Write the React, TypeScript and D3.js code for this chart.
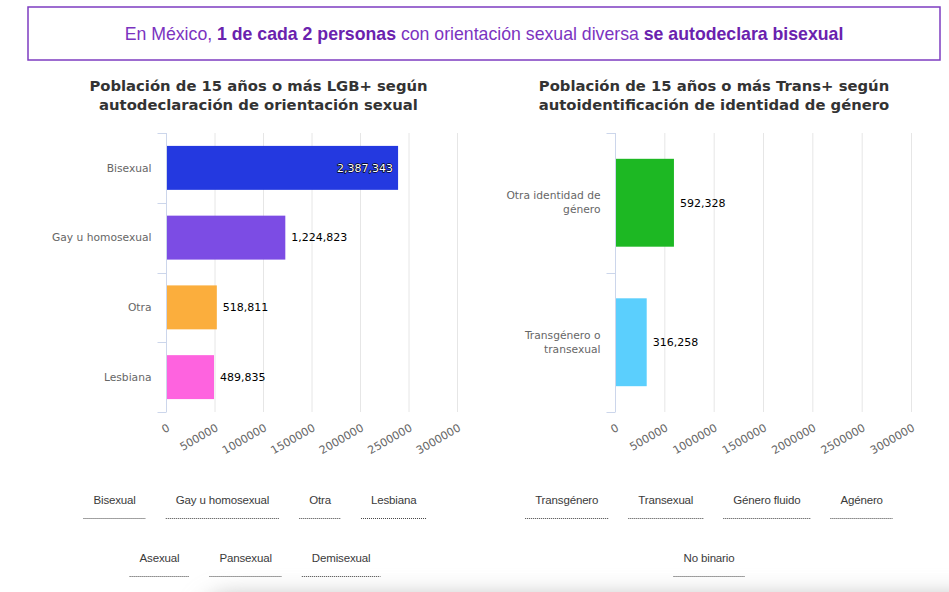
import { useEffect, useRef } from 'react';
import * as d3 from 'd3';

// datos de las dos gráficas
const lgbCategories = ['Bisexual', 'Gay u homosexual', 'Otra', 'Lesbiana'];
const lgbValues = [2387343, 1224823, 518811, 489835];
const lgbColors = ['#2439e0', '#7c4ce4', '#fbae3d', '#fe63df'];

const transCategories = ['Otra identidad de género', 'Transgénero o transexual'];
const transLabelLines = [['Otra identidad de', 'género'], ['Transgénero o', 'transexual']];
const transValues = [592328, 316258];
const transColors = ['#1db823', '#5bcffd'];

const xTicks = [0, 500000, 1000000, 1500000, 2000000, 2500000, 3000000];

const lgbButtonsRow1 = ['Bisexual', 'Gay u homosexual', 'Otra', 'Lesbiana'];
const lgbButtonsRow2 = ['Asexual', 'Pansexual', 'Demisexual'];
const transButtonsRow1 = ['Transgénero', 'Transexual', 'Género fluido', 'Agénero'];
const transButtonsRow2 = ['No binario'];

const headline = [
  { t: 'En México, ', b: false },
  { t: '1 de cada 2 personas', b: true },
  { t: ' con orientación sexual diversa ', b: false },
  { t: 'se autodeclara bisexual', b: true },
];

const HC_FONT = '"DejaVu Sans", sans-serif';
const HEL_FONT = '"Liberation Sans", Arial, sans-serif';

const App: any = () => {
  const svgRef = useRef<any>(null);

  useEffect(() => {
    const svg = d3.select(svgRef.current);
    svg.selectAll('*').remove();

    // sombra inferior
    const defs = svg.append('defs');
    defs.append('filter').attr('id', 'blur').attr('x', '-20%').attr('y', '-100%')
      .attr('width', '140%').attr('height', '300%')
      .append('feGaussianBlur').attr('stdDeviation', 12);
    svg.append('rect')
      .attr('x', 200).attr('y', 597).attr('width', 820).attr('height', 60)
      .attr('rx', 30)
      .attr('fill', '#b4b4b4')
      .attr('filter', 'url(#blur)');

    // caja del encabezado
    svg.append('rect')
      .attr('x', 28).attr('y', 7).attr('width', 912).attr('height', 53)
      .attr('fill', 'none').attr('stroke', '#7e3dc1').attr('stroke-width', 1.5);

    const head = svg.append('text')
      .attr('x', 484).attr('y', 39.5)
      .attr('text-anchor', 'middle')
      .style('font-family', HEL_FONT)
      .style('font-size', '17.7px');
    headline.forEach((h) => {
      head.append('tspan')
        .text(h.t)
        .attr('fill', h.b ? '#6a22ae' : '#7b33bf')
        .style('font-weight', h.b ? 'bold' : 'normal');
    });

    const drawChart = (
      cx: number,
      title: string[],
      categories: string[],
      labels: string[][],
      values: number[],
      colors: string[],
      x0: number,
      x1: number,
    ) => {
      const g = svg.append('g');

      title.forEach((line, i) => {
        g.append('text')
          .attr('x', cx).attr('y', 91 + i * 18.5)
          .attr('text-anchor', 'middle')
          .attr('fill', '#333')
          .style('font-family', HC_FONT)
          .style('font-weight', 'bold')
          .style('font-size', '14.8px')
          .text(line);
      });

      const x = d3.scaleLinear().domain([0, 3000000]).range([x0, x1]);
      const y = d3.scaleBand().domain(categories).range([133, 412]).padding(0);
      const bw = y.bandwidth();

      // líneas de cuadrícula
      g.selectAll('.grid')
        .data(xTicks.slice(1))
        .enter().append('line')
        .attr('x1', (d) => x(d)).attr('x2', (d) => x(d))
        .attr('y1', 133).attr('y2', 412)
        .attr('stroke', '#e6e6e6').attr('stroke-width', 1);

      // barras
      g.selectAll('.bar')
        .data(values)
        .enter().append('rect')
        .attr('x', x(0))
        .attr('y', (d, i) => (y(categories[i]) as number) + bw * 0.185)
        .attr('width', (d) => x(d) - x(0))
        .attr('height', bw * 0.63)
        .attr('fill', (d, i) => colors[i]);

      // eje vertical
      g.append('line')
        .attr('x1', x0).attr('x2', x0).attr('y1', 133).attr('y2', 412)
        .attr('stroke', '#ccd6eb').attr('stroke-width', 1);
      const bounds = categories.map((c) => y(c) as number).concat([412]);
      g.selectAll('.ytick')
        .data(bounds)
        .enter().append('line')
        .attr('x1', x0 - 9).attr('x2', x0)
        .attr('y1', (d) => Math.round(d) + 0.5).attr('y2', (d) => Math.round(d) + 0.5)
        .attr('stroke', '#ccd6eb').attr('stroke-width', 1);

      // etiquetas de categoría
      labels.forEach((lines, i) => {
        const yc = (y(categories[i]) as number) + bw / 2;
        lines.forEach((ln, j) => {
          g.append('text')
            .attr('x', x0 - 15)
            .attr('y', yc + (j - (lines.length - 1) / 2) * 14)
            .attr('dy', '0.35em')
            .attr('text-anchor', 'end')
            .attr('fill', '#666')
            .style('font-family', HC_FONT)
            .style('font-size', '10.7px')
            .text(ln);
        });
      });

      // etiquetas del eje x
      g.selectAll('.xlab')
        .data(xTicks)
        .enter().append('text')
        .attr('transform', (d) => `translate(${x(d) + 4},430) rotate(-30)`)
        .attr('text-anchor', 'end')
        .attr('fill', '#666')
        .style('font-family', HC_FONT)
        .style('font-size', '11px')
        .text((d) => String(d));

      // etiquetas de valores
      const fmt = d3.format(',');
      values.forEach((v, i) => {
        const yc = (y(categories[i]) as number) + bw / 2;
        const t = g.append('text')
          .attr('y', yc).attr('dy', '0.35em')
          .style('font-family', HC_FONT)
          .style('font-size', '11px')
          .text(fmt(v));
        const w = (t.node() as any).getComputedTextLength();
        if (x(v) + 6 + w > x1) {
          t.attr('x', x(v) - 5).attr('text-anchor', 'end')
            .attr('fill', '#fff')
            .attr('stroke', '#000').attr('stroke-width', 1.3)
            .attr('stroke-linejoin', 'round')
            .attr('paint-order', 'stroke');
        } else {
          t.attr('x', x(v) + 6).attr('fill', '#000');
        }
      });
    };

    drawChart(
      258.5,
      ['Población de 15 años o más LGB+ según', 'autodeclaración de orientación sexual'],
      lgbCategories,
      lgbCategories.map((c) => [c]),
      lgbValues,
      lgbColors,
      166.5,
      457.5,
    );
    drawChart(
      714,
      ['Población de 15 años o más Trans+ según', 'autoidentificación de identidad de género'],
      transCategories,
      transLabelLines,
      transValues,
      transColors,
      615.5,
      911.5,
    );

    // botones con subrayado punteado
    const drawRow = (items: string[], cx: number, yc: number) => {
      const g = svg.append('g');
      const texts = items.map((it) =>
        g.append('text')
          .attr('y', yc).attr('dy', '0.35em')
          .attr('fill', '#3a3a3a')
          .style('font-family', HEL_FONT)
          .style('font-size', '11.5px')
          .style('letter-spacing', '-0.15px')
          .text(it),
      );
      const widths = texts.map((t) => (t.node() as any).getComputedTextLength() + 20);
      const total = d3.sum(widths) + 20 * (items.length - 1);
      let left = cx - total / 2;
      texts.forEach((t, i) => {
        t.attr('x', left + 10);
        g.append('line')
          .attr('x1', left).attr('x2', left + widths[i])
          .attr('y1', yc + 18.5).attr('y2', yc + 18.5)
          .attr('stroke', '#444').attr('stroke-width', 1)
          .attr('stroke-dasharray', '1,1');
        left += widths[i] + 20;
      });
    };
    drawRow(lgbButtonsRow1, 255, 500);
    drawRow(lgbButtonsRow2, 255, 558);
    drawRow(transButtonsRow1, 709, 500);
    drawRow(transButtonsRow2, 709, 558);
  }, []);

  return (
    <svg
      ref={svgRef}
      width={949}
      height={592}
      style={{ position: 'absolute', left: 0, top: 0, display: 'block', background: '#fff' }}
    />
  );
};

export default App;
